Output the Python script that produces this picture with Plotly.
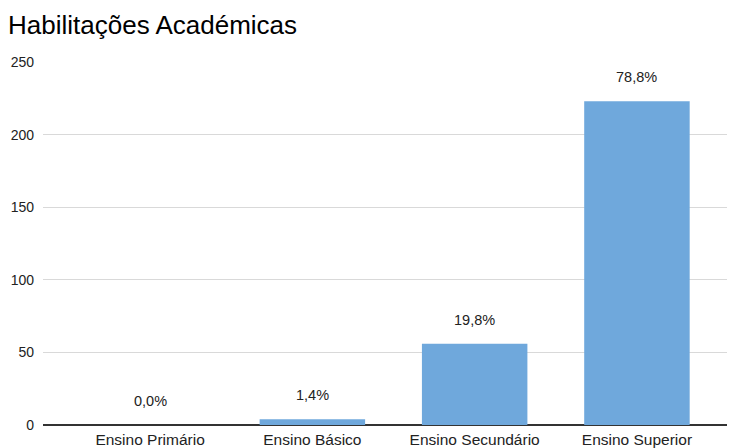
import plotly.graph_objects as go

# Habilitações académicas dos inquiridos
categorias = ["Ensino Primário", "Ensino Básico", "Ensino Secundário", "Ensino Superior"]
contagens = [0, 4, 56, 223]
percentagens = ["0,0%", "1,4%", "19,8%", "78,8%"]
y_ticks = [0, 50, 100, 150, 200, 250]

FONT = "Liberation Sans, Arial, sans-serif"

fig = go.Figure(
    go.Bar(
        x=list(range(len(categorias))),
        y=contagens,
        marker=dict(color="#6fa8dc", line=dict(width=0)),
        width=0.65,
        hoverinfo="skip",
    )
)

# Rótulos de percentagem acima de cada barra
for i, (v, p) in enumerate(zip(contagens, percentagens)):
    fig.add_annotation(
        x=i, y=v, text=p, showarrow=False, yshift=24,
        font=dict(family=FONT, size=14.5, color="#222222"),
    )

fig.update_layout(
    width=732, height=448,
    margin=dict(l=43, r=5, t=62, b=23),
    paper_bgcolor="white", plot_bgcolor="white",
    showlegend=False,
    title=dict(
        text="Habilitações Académicas",
        x=0.011, xanchor="left", y=0.945, yanchor="middle",
        font=dict(family=FONT, size=26, color="#000000"),
    ),
    font=dict(family=FONT, size=14, color="#222222"),
    xaxis=dict(
        range=[-0.66, 3.555],
        tickmode="array",
        tickvals=list(range(len(categorias))),
        ticktext=categorias,
        showgrid=False, showline=False, zeroline=False, ticks="",
        tickfont=dict(family=FONT, size=15.5, color="#222222"),
        ticklabelstandoff=3,
        automargin=False,
    ),
    yaxis=dict(
        range=[0, 250],
        tickmode="array", tickvals=y_ticks,
        showgrid=True, gridcolor="#d9d9d9", gridwidth=1,
        zeroline=True, zerolinecolor="#333333", zerolinewidth=1.5,
        showline=False, ticks="",
        tickfont=dict(family=FONT, size=14, color="#222222"),
        ticklabelstandoff=8,
        automargin=False,
    ),
)

fig.write_html("out.html")
